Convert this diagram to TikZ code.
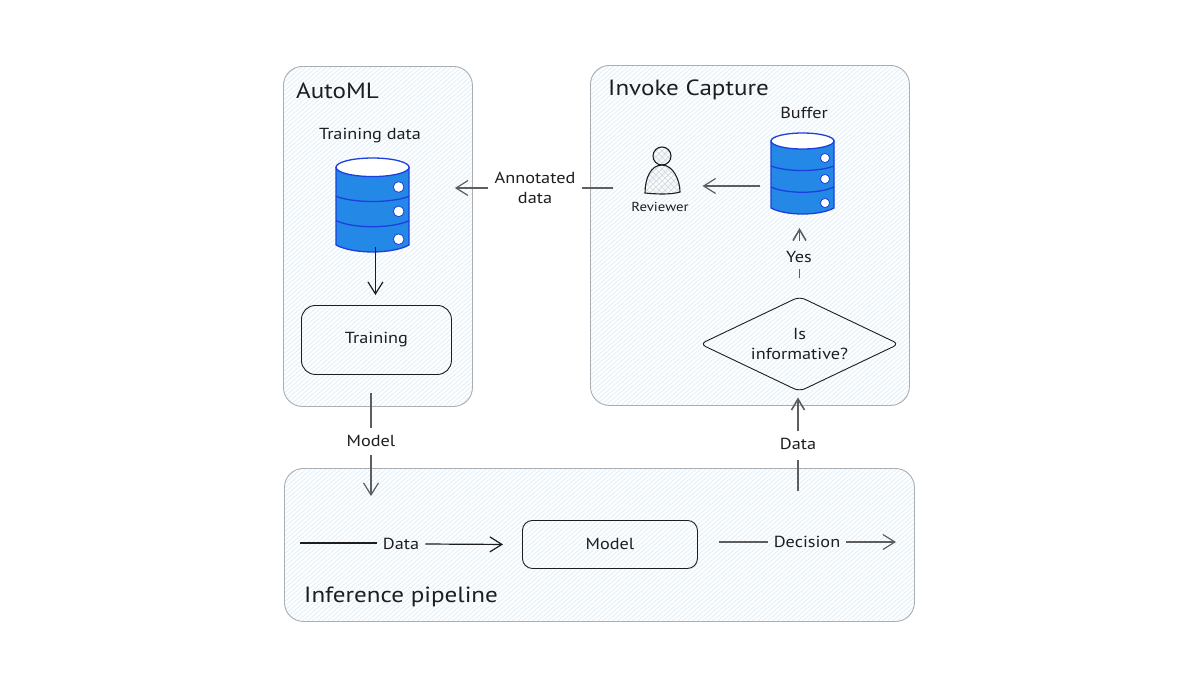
\documentclass[tikz,border=0pt]{standalone}
\usepackage{fontspec}
\setmainfont{PT Sans}[FakeStretch=1.14]
\usetikzlibrary{arrows.meta,shapes.geometric}
\definecolor{ink}{HTML}{1E1E1E}
\definecolor{panelline}{HTML}{A9AEB3}
\definecolor{hatchblue}{HTML}{E6F1FA}
\definecolor{dbfill}{HTML}{2488E6}
\definecolor{dbline}{HTML}{1C3FDD}
\definecolor{softink}{HTML}{5E5E5E}
\tikzset{
  panel/.style={draw=panelline,line width=0.9pt,fill=white,rounded corners=19pt,anchor=north west,inner sep=0pt,
    path picture={\foreach \d in {-1000,-995,...,1000}{\draw[hatchblue,line width=1.1pt] (\d-400,350) -- (\d+400,-350);}}},
  title/.style={font=\fontsize{22}{25}\selectfont,text=ink,anchor=west,inner sep=0pt},
  lbl/.style={font=\fontsize{16}{20}\selectfont,text=ink,align=center,inner sep=0pt},
  small/.style={font=\fontsize{13}{16}\selectfont,text=ink,align=center,inner sep=0pt},
  procbox/.style={draw=ink,line width=0.9pt,anchor=north west,inner sep=0pt,font=\fontsize{16}{20}\selectfont,text=ink},
  decide/.style={diamond,draw=ink,line width=0.9pt,rounded corners=6pt,inner sep=0pt,aspect=2.1,
    minimum width=199pt,minimum height=95pt,align=center,font=\fontsize{16}{20}\selectfont,text=ink},
  hold/.style={inner sep=0pt,outer sep=0pt},
  conn/.style={draw=#1,line width=1.2pt},
  conn/.default=ink,
  flow/.style={draw=#1,line width=1.2pt,-{Straight Barb[length=12pt,width=15pt,line width=1.2pt]}},
  flow/.default=ink,
  thick flow/.style={draw=softink,line width=1.6pt,-{Straight Barb[length=11pt,width=13pt,line width=1.6pt]}},
  pics/dbcyl/.style={code={
    \draw[dbline,line width=1.3pt,fill=dbfill] (0,8) -- (0,75) .. controls (15,83) and (48,83) .. (63,75) -- (63,8) -- cycle;
    \draw[dbline,line width=1.3pt,fill=white] (31.5,8) ellipse[x radius=31.5,y radius=8];
    \draw[dbline,line width=1.3pt] (0,33) .. controls (15,39) and (48,39) .. (63,33);
    \draw[dbline,line width=1.3pt] (0,54) .. controls (15,61) and (48,61) .. (63,54);
    \foreach \hy in {25,46,70}{\draw[dbline,line width=0.8pt,fill=white] (54,\hy) circle[radius=4.6];}
  }}
}
\begin{document}
\begin{tikzpicture}[x=1pt,y=-1pt]
\useasboundingbox (0,0) rectangle (1185,694);
\fill[white] (0,0) rectangle (1185,694);
% panels
\node[panel,minimum width=189pt,minimum height=340pt] (automl) at (283,66) {};
\node[panel,minimum width=319pt,minimum height=340pt] (invoke) at (590,65) {};
\node[panel,minimum width=630pt,minimum height=153pt] (infer) at (284,468) {};
% titles
\node[title] (automlT) at (296,91) {AutoML};
\node[title] (invokeT) at (608,90) {Invoke Capture};
\node[title] (inferT) at (304,597) {Inference pipeline};
% databases
\pic[scale=1.16] at (336,158) {dbcyl};
\pic at (771,133) {dbcyl};
\node[hold,minimum width=73pt,minimum height=94pt] (trainDB) at (372.5,205) {};
\node[hold,minimum width=63pt,minimum height=82pt] (bufferDB) at (802.5,174) {};
\node[lbl] (trainL) at (370,136) {Training data};
\node[lbl] (bufferL) at (804,113) {Buffer};
% process boxes
\node[procbox,rounded corners=14pt,minimum width=150pt,minimum height=69pt] (training) at (301,305) {\raisebox{-2pt}{Training}};
\node[procbox,rounded corners=10pt,minimum width=175pt,minimum height=48pt] (modelbox) at (522,520) {Model};
\node[decide] (inform) at (799.5,344) {Is\\informative?};
% reviewer
\begin{scope}
  \clip (662,156) circle[radius=9] (645,193) .. controls (645,178) and (651,165) .. (662,165) .. controls (673,165) and (680,180) .. (680,192) .. controls (670,195) and (655,194) .. (645,193) -- cycle;
  \foreach \d in {-60,-54,...,60}{
    \draw[black!15,line width=0.7pt] (662+\d-50,175-50) -- (662+\d+50,175+50);
    \draw[black!15,line width=0.7pt] (662+\d-50,175+50) -- (662+\d+50,175-50);}
\end{scope}
\draw[ink,line width=1.1pt] (662,156) circle[radius=9];
\draw[ink,line width=1.1pt] (645,193) .. controls (645,178) and (651,165) .. (662,165) .. controls (673,165) and (680,180) .. (680,192) .. controls (670,195) and (655,194) .. (645,193) -- cycle;
\node[hold,minimum width=36pt,minimum height=46pt] (person) at (662.5,170) {};
\node[small] (reviewerL) at (660,207) {Reviewer};
% edge labels
\node[lbl] (annot) at (535,188) {Annotated\\data};
\node[lbl] (modelL) at (371,441) {Model};
\node[lbl] (dataL1) at (401,544) {Data};
\node[lbl] (decL) at (807,542) {Decision};
\node[lbl] (dataL2) at (798,444) {Data};
\node[lbl] (yesL) at (799,257) {Yes};
% connectors
\draw[flow] ([yshift=5pt,xshift=-1pt]trainDB.south -| training.north) -- ([yshift=10pt,xshift=-1pt]training.north);
\draw[conn=softink] ([yshift=14pt]automl.south -| modelL) -- ([yshift=7pt]modelL.north);
\draw[flow=softink] ([yshift=-8pt]modelL.south) -- ([yshift=-28pt]infer.north -| modelL);
\coordinate (dataStart) at (300,543);
\coordinate (decEnd) at (896,542);
\draw[conn] (dataStart) -- ([xshift=-6pt,yshift=1pt]dataL1.west);
\draw[flow] ([xshift=6pt]dataL1.east) -- ([xshift=-19pt]modelbox.west);
\draw[conn=softink] ([xshift=21pt]modelbox.east |- decL) -- ([xshift=-6pt]decL.west);
\draw[flow=softink] ([xshift=6pt]decL.east) -- (decEnd);
\draw[conn=softink,line width=1.6pt] ([yshift=-23pt]infer.north -| dataL2) -- ([yshift=-10pt]dataL2.south);
\draw[thick flow] ([yshift=7pt]dataL2.north) -- ([yshift=-5.5pt]inform.south -| dataL2);
\draw[conn=softink,line width=1.4pt] ([yshift=18pt]inform.north) -- ([yshift=-6pt]inform.north |- yesL.south);
\draw[thick flow] ([yshift=10pt]inform.north |- yesL.north) -- ([yshift=-13pt]inform.north |- bufferDB.south);
\draw[flow=softink] ([xshift=-11pt,yshift=-12pt]bufferDB.west) -- ([xshift=22pt,yshift=-16pt]person.east);
\draw[conn=softink] ([xshift=-32pt,yshift=-18pt]person.west) -- ([xshift=6pt]annot.east);
\draw[flow=softink] ([xshift=-6pt]annot.west) -- ([xshift=-18pt]automl.east |- annot);
\end{tikzpicture}
\end{document}
